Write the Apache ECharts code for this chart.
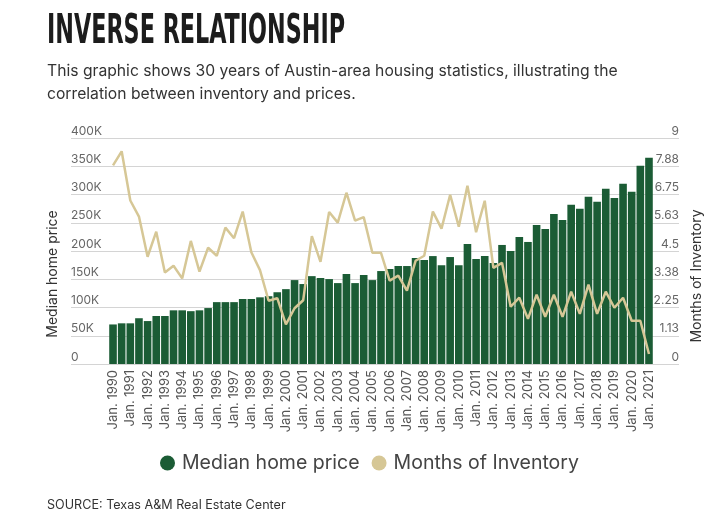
<!DOCTYPE html>
<html>
<head>
<meta charset="utf-8">
<style>
  html, body { margin: 0; padding: 0; background: #fff; }
  #chart { width: 721px; height: 530px; }
</style>
<script src="https://cdn.jsdelivr.net/npm/echarts@6/dist/echarts.min.js"></script>
</head>
<body>
<div id="chart"></div>
<script>
// 年份（每年两个点：Jan / Jul）
const years = [];
for (let y = 1990; y <= 2021; y++) years.push(y);
const periods = [];
years.forEach(y => {
  periods.push('Jan. ' + y);
  if (y < 2021) periods.push('Jul. ' + y);
});

// 中位房价（美元）
const medianPrice = [
  70000, 72000, 72000, 81000, 76000, 85000, 85000, 95000, 95000, 93500,
  95000, 99000, 109500, 109500, 109500, 115000, 115000, 118000, 120000, 127000,
  132500, 148500, 141500, 155500, 152000, 150300, 143200, 159200, 143200, 157400,
  148500, 164500, 168000, 173400, 173400, 187600, 184000, 191000, 175000, 189300,
  175000, 212400, 185800, 191000, 178700, 210700, 200000, 224900, 216000, 246000,
  239000, 265700, 255000, 281700, 274600, 295900, 287000, 310000, 294000, 319000,
  304700, 350900, 365000
];

// 库存月数
const monthsInventory = [
  7.91, 8.47, 6.51, 5.87, 4.27, 5.27, 3.64, 3.91, 3.41, 4.90,
  3.68, 4.63, 4.31, 5.43, 5.01, 6.07, 4.45, 3.74, 2.52, 2.62,
  1.58, 2.22, 2.54, 5.09, 4.07, 6.05, 5.63, 6.82, 5.71, 5.85,
  4.43, 4.43, 3.32, 3.52, 2.92, 4.11, 4.31, 6.07, 5.39, 6.74,
  5.47, 7.10, 5.25, 6.50, 3.83, 4.03, 2.28, 2.64, 1.80, 2.76,
  1.88, 2.76, 1.88, 2.88, 2.00, 3.16, 2.00, 2.88, 2.24, 2.64,
  1.72, 1.72, 0.40
];

const GREEN = '#1b5c35';
const TAN = '#d6c796';
const FONT = 'Inter, "Noto Sans", sans-serif';

// 标题用窄体，按参考宽度水平压缩
const TITLE = 'INVERSE RELATIONSHIP';
const TITLE_FONT = 'bold 41px "DejaVu Sans Condensed", "DejaVu Sans", sans-serif';
const ctx = document.createElement('canvas').getContext('2d');
ctx.font = TITLE_FONT;
const titleScale = 298 / ctx.measureText(TITLE).width;

const chart = echarts.init(document.getElementById('chart'));

const option = {
  animation: false,
  textStyle: { fontFamily: FONT },
  grid: [
    { left: 71, right: 42, top: 138, bottom: 166 },
    { left: 108.7, right: 67.7, top: 138, bottom: 166 }
  ],
  xAxis: [
    { type: 'value', gridIndex: 0, show: false, min: 0, max: 1 },
    {
      type: 'category',
      gridIndex: 1,
      data: periods,
      axisLine: { show: false },
      axisTick: { show: false },
      axisLabel: {
        interval: 1,
        rotate: 90,
        margin: 6,
        color: '#555',
        fontSize: 13,
        fontFamily: FONT
      }
    }
  ],
  yAxis: [
    {
      type: 'value',
      gridIndex: 0,
      position: 'left',
      min: 0,
      max: 400000,
      interval: 50000,
      name: 'Median home price',
      nameLocation: 'middle',
      nameGap: 10,
      nameTextStyle: { color: '#333', fontSize: 14, fontFamily: FONT, padding: [0, 46, 0, 0] },
      axisLine: { show: false },
      axisTick: { show: false },
      axisLabel: {
        inside: true,
        margin: 0,
        verticalAlign: 'bottom',
        padding: [0, 0, 1, 0],
        color: '#666',
        fontSize: 12,
        formatter: v => (v === 0 ? '0' : v / 1000 + 'K')
      },
      splitLine: { lineStyle: { color: '#d4d4d4', width: 1 } }
    },
    {
      type: 'value',
      gridIndex: 0,
      position: 'right',
      min: 0,
      max: 9,
      interval: 1.125,
      name: 'Months of Inventory',
      nameLocation: 'middle',
      nameRotate: 90,
      nameGap: 10,
      nameTextStyle: { color: '#333', fontSize: 14, fontFamily: FONT, padding: [0, 50, 0, 0] },
      axisLine: { show: false },
      axisTick: { show: false },
      axisLabel: {
        inside: true,
        margin: 0,
        verticalAlign: 'bottom',
        padding: [0, 0, 1, 0],
        color: '#666',
        fontSize: 12,
        formatter: v => String(parseFloat(v.toFixed(2)))
      },
      splitLine: { show: false }
    },
    { type: 'value', gridIndex: 1, show: false, min: 0, max: 400000 },
    { type: 'value', gridIndex: 1, show: false, min: 0, max: 9 }
  ],
  legend: {
    left: 155,
    top: 448,
    icon: 'circle',
    itemWidth: 15,
    itemHeight: 15,
    itemGap: 12,
    textStyle: { color: '#444', fontSize: 19.5, fontFamily: FONT, padding: [0, 0, 0, 2] },
    data: ['Median home price', 'Months of Inventory']
  },
  series: [
    {
      name: 'Median home price',
      type: 'bar',
      xAxisIndex: 1,
      yAxisIndex: 2,
      data: medianPrice,
      barCategoryGap: '12%',
      itemStyle: { color: GREEN }
    },
    {
      name: 'Months of Inventory',
      type: 'line',
      xAxisIndex: 1,
      yAxisIndex: 3,
      data: monthsInventory,
      symbol: 'none',
      z: 5,
      itemStyle: { color: TAN },
      lineStyle: { color: TAN, width: 2.5 }
    }
  ],
  graphic: [
    {
      type: 'text',
      x: 47,
      y: 32,
      scaleX: titleScale,
      style: {
        text: TITLE,
        font: TITLE_FONT,
        fill: '#1c1c1c',
        verticalAlign: 'middle'
      }
    },
    {
      type: 'text',
      left: 47,
      top: 60,
      style: {
        text: 'This graphic shows 30 years of Austin-area housing statistics, illustrating the\ncorrelation between inventory and prices.',
        font: '15.7px ' + FONT,
        lineHeight: 23,
        fill: '#333'
      }
    },
    {
      type: 'text',
      left: 47,
      top: 499,
      style: {
        text: 'SOURCE: Texas A&M Real Estate Center',
        font: '12.6px ' + FONT,
        fill: '#333'
      }
    }
  ]
};

chart.setOption(option);
</script>
</body>
</html>
